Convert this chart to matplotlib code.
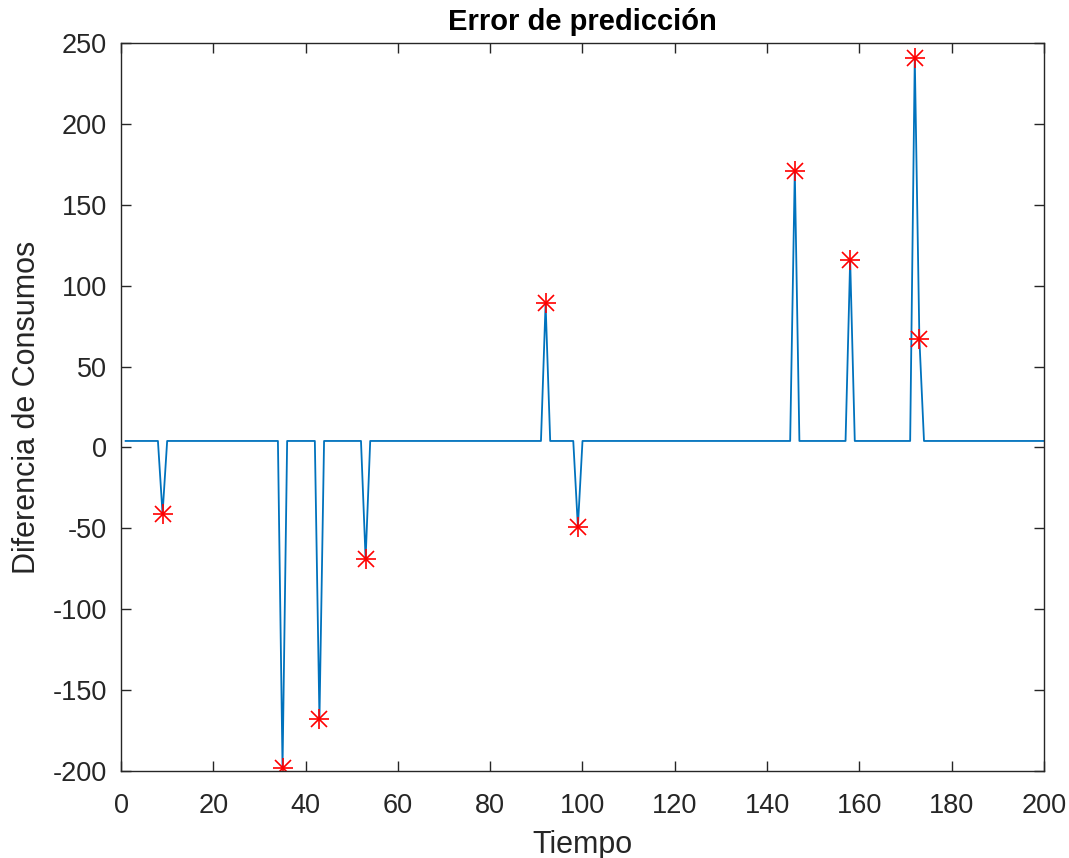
import numpy as np
import matplotlib
matplotlib.use("Agg")
import matplotlib.pyplot as plt

plt.rcParams['font.family'] = ['Liberation Sans', 'DejaVu Sans']
plt.rcParams['axes.unicode_minus'] = False

# Data
t_start, t_end = 1, 200
baseline = 4.0
spike_times = [9, 35, 43, 53, 92, 99, 146, 158, 172, 173]
spike_values = [-41, -198, -168, -69, 89, -49, 171, 116, 241, 67]

tiempo = np.arange(t_start, t_end + 1)
error = np.full(tiempo.shape, baseline, dtype=float)
for t, v in zip(spike_times, spike_values):
    error[tiempo == t] = v

fig = plt.figure(figsize=(10.69, 8.58), dpi=100)
ax = fig.add_axes([0.1132, 0.1014, 0.8634, 0.8485])
ax.plot(tiempo, error, color='#0072BD', linewidth=1.3)
# MATLAB '*' is an asterisk; emulate with combined + and x markers
ax.plot(spike_times, spike_values, linestyle='none', marker='+', color='red',
        markersize=15, markeredgewidth=1.2)
ax.plot(spike_times, spike_values, linestyle='none', marker='x', color='red',
        markersize=11, markeredgewidth=1.2)

ax.set_xlim(0, 200)
ax.set_ylim(-200, 250)
ax.set_xticks(np.arange(0, 201, 20))
ax.set_yticks(np.arange(-200, 251, 50))
ax.tick_params(direction='in', length=7.5, width=1, colors='#262626',
               labelsize=19.5, top=True, right=True, labeltop=False, labelright=False)
ax.tick_params(axis='x', pad=16)
ax.tick_params(axis='y', pad=10)
for s in ax.spines.values():
    s.set_color('#262626')
    s.set_linewidth(1.0)
ax.set_title('Error de predicción', fontsize=21, fontweight='bold', pad=9)
ax.set_xlabel('Tiempo', fontsize=22, color='#262626', labelpad=8)
ax.set_ylabel('Diferencia de Consumos', fontsize=22, color='#262626', labelpad=8)

fig.savefig('out.png', dpi=100)
